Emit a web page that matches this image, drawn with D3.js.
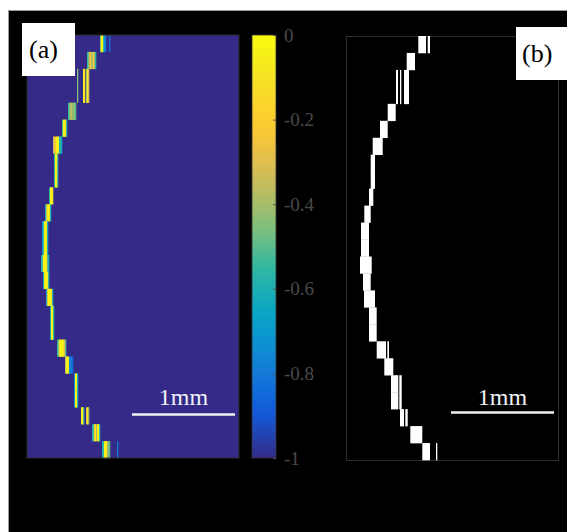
<html>
<head>
  <meta charset="utf-8">
  <script src="https://d3js.org/d3.v7.min.js"></script>
  <style>
    body { margin: 0; background: white; }
    text { font-family: "Liberation Serif", "Times New Roman", serif; }
  </style>
</head>
<body>
<svg id="fig" width="567" height="532"></svg>
<script>
// columns are on a 212 wide grid, one row band per scan line (25 rows)
const nCols = 212;
const nRows = 25;

// panel (a): first column of each row and the values that follow it
const rowStart = [73, 60, 50, 50, 41, 35, 26, 26, 26, 22, 18, 15, 15, 14, 16, 19, 23, 23, 30, 38, 47, 47, 54, 65, 75];
const rowValues = [
  [-0.45, -0.02, -0.05, -0.55, -0.75, -0.8, -1, -1, -1, -0.82],
  [-0.55, -0.45, -0.35, -0.25, -0.35, -0.4, -0.2, -0.4, -0.55],
  [-0.45, -1, -1, -1, -1, -1, -0.05, -0.1, -1, -0.4, -0.05, -0.3],
  [-0.45, -1, -1, -1, -1, -1, -0.05, -0.1, -1, -0.4, -0.05, -0.3],
  [-0.55, -0.45, -0.4, -0.35, -0.45, -0.4, -0.45, -0.5],
  [-0.5, -0.05, -0.02, -0.1, -0.55],
  [-0.35, -0.2, -0.25, -0.05, -0.02, -0.05, -0.6, -0.55, -0.65],
  [-1, -0.55, -0.05, -0.02, -0.5],
  [-1, -0.55, -0.05, -0.02, -0.5],
  [-0.55, -0.05, -0.02, -0.1],
  [-0.6, -0.35, -0.05, -0.02, -0.1, -0.6],
  [-0.7, -0.55, -0.05, -0.02, -0.1, -0.6],
  [-0.7, -0.55, -0.05, -0.02, -0.1, -0.6],
  [-0.6, -0.5, -0.05, -0.02, -0.02, -0.1, -0.5, -0.6],
  [-0.6, -0.1, -0.02, -0.02, -0.05, -0.55],
  [-0.6, -0.3, -0.02, -0.02, -0.05, -0.1, -0.6],
  [-0.6, -0.05, -0.02, -0.55],
  [-0.6, -0.05, -0.02, -0.55],
  [-0.55, -0.45, -0.1, -0.02, -0.05, -0.02, -0.1, -0.3, -0.5],
  [-0.35, -0.05, -0.02, -0.1, -0.75, -0.8, -0.8, -0.85],
  [-0.7, -0.05, -0.02, -0.6],
  [-0.7, -0.05, -0.02, -0.6],
  [-0.05, -0.02, -0.5, -1, -1, -0.3, -0.05, -0.4],
  [-0.6, -0.5, -0.2, -0.05, -0.4, -0.1, -0.02, -0.55],
  [-0.6, -0.55, -0.05, -0.02, -0.1, -0.4, -0.45, -0.5, -1, -1, -1, -1, -1, -1, -1, -0.8]
];

// panel (b): binary edge, white segments [from, to] per row
const maskSegments = [
  [[72.3, 80], [81.7, 84]],
  [[60.7, 69]],
  [[50, 52], [54, 55.3], [58, 63]],
  [[50, 52], [54, 55.3], [58, 63]],
  [[41.7, 49.7]],
  [[34, 41.7]],
  [[26.7, 36.7]],
  [[24.7, 29]],
  [[24.7, 29]],
  [[23, 27.3]],
  [[18.3, 24.7]],
  [[15, 23]],
  [[15, 23]],
  [[14, 25.7]],
  [[17, 24.7]],
  [[18, 29]],
  [[23, 30.7]],
  [[23, 30.7]],
  [[30.7, 40], [41.3, 43]],
  [[38.3, 47.3]],
  [[45, 52.3], [53.3, 55.7]],
  [[45, 52.3], [53.3, 55.7]],
  [[54, 58], [59.3, 61.7]],
  [[64.3, 76.3]],
  [[76.3, 84], [90, 91.3]]
];

const colorTicks = [0, -0.2, -0.4, -0.6, -0.8, -1];
const scaleBarCols = 103;   // 1 mm
const scaleBarLabel = "1mm";

// parula colormap
const parulaStops = ["#352a87", "#0f5cdd", "#1481d6", "#06a4ca", "#2eb7a4", "#87bf77", "#d1bb59", "#fec832", "#f5e127", "#f9fb0e"];
const color = d3.scaleLinear()
  .domain(d3.range(parulaStops.length).map(i => -1 + i / (parulaStops.length - 1)))
  .range(parulaStops)
  .clamp(true);

const svg = d3.select("#fig");

// black figure background
svg.append("rect")
  .attr("x", 8.5).attr("y", 10.5).attr("width", 570).attr("height", 530)
  .attr("fill", "black").attr("stroke", "#9a9a9a").attr("stroke-width", 1);

// ---- panel (a)
const xa = d3.scaleLinear().domain([0, nCols]).range([27, 239]);
const ya = d3.scaleBand().domain(d3.range(nRows)).range([35, 458]);

const pa = svg.append("g");
pa.append("rect")
  .attr("x", xa(0)).attr("y", ya.range()[0])
  .attr("width", xa(nCols) - xa(0)).attr("height", ya.range()[1] - ya.range()[0])
  .attr("fill", color(-1));

const cells = [];
rowStart.forEach((s, r) => {
  rowValues[r].forEach((v, i) => {
    if (v > -1) cells.push({ row: r, col: s + i, v: v });
  });
});
pa.selectAll("rect.cell").data(cells).enter()
  .append("rect")
  .attr("class", "cell")
  .attr("x", d => xa(d.col))
  .attr("y", d => ya(d.row))
  .attr("width", xa(1) - xa(0) + 0.3)
  .attr("height", ya.bandwidth() + 0.3)
  .attr("fill", d => color(d.v));

pa.append("rect")
  .attr("x", xa(0)).attr("y", ya.range()[0])
  .attr("width", xa(nCols) - xa(0)).attr("height", ya.range()[1] - ya.range()[0])
  .attr("fill", "none").attr("stroke", "#2a2a2a").attr("stroke-width", 1);

// scale bar (a)
pa.append("line")
  .attr("x1", xa(nCols - 4 - scaleBarCols)).attr("x2", xa(nCols - 4))
  .attr("y1", 414.5).attr("y2", 414.5)
  .attr("stroke", "#f2f2f2").attr("stroke-width", 2.5);
pa.append("text")
  .attr("x", xa(nCols - 4 - scaleBarCols / 2)).attr("y", 405)
  .attr("text-anchor", "middle").attr("fill", "#eef2f8")
  .style("font-size", "24px").text(scaleBarLabel);

// label (a)
svg.append("rect").attr("x", 22).attr("y", 23).attr("width", 53).attr("height", 53).attr("fill", "white");
svg.append("text").attr("x", 29).attr("y", 58).attr("fill", "black")
  .style("font-size", "26px").text("(a)");

// ---- colorbar
const cy = d3.scaleLinear().domain([-1, 0]).range([458, 35]);
const grad = svg.append("defs").append("linearGradient")
  .attr("id", "parula").attr("x1", 0).attr("y1", 1).attr("x2", 0).attr("y2", 0);
grad.selectAll("stop").data(d3.range(0, 1.0001, 0.05)).enter()
  .append("stop")
  .attr("offset", d => d)
  .attr("stop-color", d => color(d - 1));

const cb = svg.append("g");
cb.append("rect")
  .attr("x", 252).attr("y", cy(0)).attr("width", 24).attr("height", cy(-1) - cy(0))
  .attr("fill", "url(#parula)").attr("stroke", "#333").attr("stroke-width", 0.8);

const cAxis = cb.append("g")
  .attr("transform", "translate(276,0)")
  .call(d3.axisRight(cy).tickValues(colorTicks).tickSize(-3).tickPadding(8)
    .tickFormat(d => d === 0 ? "0" : (d === -1 ? "-1" : "-" + d3.format(".1f")(-d))));
cAxis.select(".domain").remove();
cAxis.selectAll("line").attr("stroke", "#555");
cAxis.selectAll("text")
  .attr("fill", "#4a4a4a")
  .style("font-family", "Liberation Serif, serif")
  .style("font-size", "19px");

// ---- panel (b)
const xb = d3.scaleLinear().domain([0, nCols]).range([346, 558]);
const yb = d3.scaleBand().domain(d3.range(nRows)).range([36, 460]);
const pb = svg.append("g");

pb.append("rect")
  .attr("x", xb(0) + 0.5).attr("y", yb.range()[0] + 0.5)
  .attr("width", xb(nCols) - xb(0)).attr("height", yb.range()[1] - yb.range()[0])
  .attr("fill", "black").attr("stroke", "#2e2e2e").attr("stroke-width", 1);

const segs = [];
maskSegments.forEach((list, r) => list.forEach(s => segs.push({ row: r, x0: s[0], x1: s[1] })));
pb.selectAll("rect.seg").data(segs).enter()
  .append("rect")
  .attr("class", "seg")
  .attr("x", d => xb(d.x0))
  .attr("y", d => yb(d.row))
  .attr("width", d => xb(d.x1) - xb(d.x0))
  .attr("height", yb.bandwidth() + 0.3)
  .attr("fill", "white");

pb.append("line")
  .attr("x1", xb(nCols - 4 - scaleBarCols)).attr("x2", xb(nCols - 4))
  .attr("y1", 412.5).attr("y2", 412.5)
  .attr("stroke", "#f2f2f2").attr("stroke-width", 2.5);
pb.append("text")
  .attr("x", xb(nCols - 4 - scaleBarCols / 2)).attr("y", 405)
  .attr("text-anchor", "middle").attr("fill", "#eef2f8")
  .style("font-size", "24px").text(scaleBarLabel);

// label (b)
svg.append("rect").attr("x", 516).attr("y", 27).attr("width", 51).attr("height", 53).attr("fill", "white");
svg.append("text").attr("x", 522).attr("y", 62).attr("fill", "black")
  .style("font-size", "26px").text("(b)");
</script>
</body>
</html>
